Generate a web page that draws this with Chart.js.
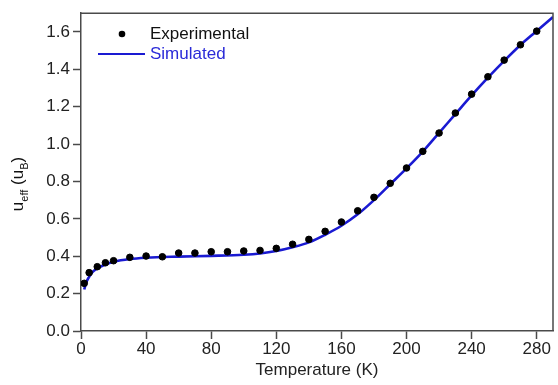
<!DOCTYPE html>
<html>
<head>
<meta charset="utf-8">
<script src="https://cdn.jsdelivr.net/npm/chart.js@4"></script>
<style>
  html, body { margin: 0; padding: 0; background: #fff; }
  #wrap { width: 558px; height: 385px; }
</style>
</head>
<body>
<div id="wrap"><canvas id="chart" width="558" height="385"></canvas></div>
<script>
// experimental points (temperature K, u_eff)
const expT = [2, 5, 10, 15, 20, 30, 40, 50, 60, 70, 80, 90, 100, 110, 120, 130, 140, 150, 160, 170,
  180, 190, 200, 210, 220, 230, 240, 250, 260, 270, 280];
const expU = [0.255, 0.312, 0.344, 0.365, 0.376, 0.394, 0.401, 0.397, 0.417, 0.417, 0.424, 0.424, 0.428, 0.431, 0.442, 0.464, 0.490, 0.533, 0.583, 0.643,
  0.715, 0.790, 0.872, 0.961, 1.059, 1.166, 1.267, 1.360, 1.449, 1.531, 1.604];

// simulated curve
const simT = [2, 3, 5, 7, 10, 15, 20, 30, 40, 60, 80, 100, 110, 120, 130, 140, 150, 160, 170, 180,
  190, 200, 210, 220, 230, 240, 250, 260, 270, 280, 290];
const simU = [0.222, 0.255, 0.29, 0.315, 0.335, 0.356, 0.37, 0.385, 0.392, 0.398, 0.402, 0.408, 0.415, 0.428, 0.448, 0.474, 0.515, 0.563, 0.624, 0.70,
  0.785, 0.87, 0.96, 1.06, 1.16, 1.26, 1.355, 1.445, 1.53, 1.605, 1.68];

const xTicks = [0, 40, 80, 120, 160, 200, 240, 280];
const yTicks = [0.0, 0.2, 0.4, 0.6, 0.8, 1.0, 1.2, 1.4, 1.6];

const FONT = 'Liberation Sans, Arial, sans-serif';
const axisColor = '#4a4a4a';
const lineColor = '#1a1ad2';

const expData = expT.map((t, i) => ({ x: t, y: expU[i] }));
const simData = simT.map((t, i) => ({ x: t, y: simU[i] }));

// frame, legend and y title with subscripts
const extras = {
  id: 'extras',
  afterDraw(chart) {
    const ctx = chart.ctx;
    const a = chart.chartArea;
    ctx.save();
    ctx.strokeStyle = axisColor;
    ctx.lineWidth = 1.5;
    ctx.beginPath();
    ctx.moveTo(a.left, a.top);
    ctx.lineTo(a.right, a.top);
    ctx.lineTo(a.right, a.bottom);
    ctx.stroke();

    // legend
    ctx.fillStyle = '#000';
    ctx.beginPath();
    ctx.arc(122, 34, 3.3, 0, Math.PI * 2);
    ctx.fill();
    ctx.font = '17px ' + FONT;
    ctx.textBaseline = 'middle';
    ctx.textAlign = 'left';
    ctx.fillStyle = '#111';
    ctx.fillText('Experimental', 150, 34);
    ctx.strokeStyle = lineColor;
    ctx.lineWidth = 2;
    ctx.beginPath();
    ctx.moveTo(98, 54);
    ctx.lineTo(145, 54);
    ctx.stroke();
    ctx.fillStyle = '#2a2ad8';
    ctx.fillText('Simulated', 150, 54);

    // y title: u_eff (u_B)
    ctx.translate(23, 184);
    ctx.rotate(-Math.PI / 2);
    ctx.fillStyle = '#111';
    ctx.textBaseline = 'alphabetic';
    const parts = [['u', 17, 0], ['eff', 11, 5], [' (u', 17, 0], ['B', 11, 5], [')', 17, 0]];
    let w = 0;
    parts.forEach(p => { ctx.font = p[1] + 'px ' + FONT; w += ctx.measureText(p[0]).width; });
    let x = -w / 2;
    parts.forEach(p => {
      ctx.font = p[1] + 'px ' + FONT;
      ctx.fillText(p[0], x, p[2]);
      x += ctx.measureText(p[0]).width;
    });
    ctx.restore();
  }
};

new Chart(document.getElementById('chart'), {
  type: 'scatter',
  data: {
    datasets: [
      {
        label: 'Simulated',
        data: simData,
        showLine: true,
        borderColor: lineColor,
        borderWidth: 2.6,
        pointRadius: 0,
        cubicInterpolationMode: 'monotone',
        order: 2
      },
      {
        label: 'Experimental',
        data: expData,
        showLine: false,
        backgroundColor: '#000',
        borderColor: '#000',
        pointRadius: 3.3,
        order: 1
      }
    ]
  },
  options: {
    responsive: false,
    animation: false,
    layout: { padding: { top: 13, right: 1, left: 0, bottom: 0 } },
    plugins: { legend: { display: false }, tooltip: { enabled: false } },
    scales: {
      x: {
        type: 'linear',
        min: 0,
        max: 290,
        afterFit(s) { s.height = 54; },
        afterBuildTicks(s) { s.ticks = xTicks.map(v => ({ value: v })); },
        ticks: { font: { family: FONT, size: 17 }, color: '#222', padding: 0, maxRotation: 0 },
        grid: { drawOnChartArea: false, tickLength: 8, tickColor: axisColor, tickWidth: 1.5 },
        border: { color: axisColor, width: 1.5 },
        title: { display: true, text: 'Temperature (K)', font: { family: FONT, size: 17 }, color: '#222', padding: { top: 6 } }
      },
      y: {
        type: 'linear',
        min: 0,
        max: 1.70,
        afterFit(s) { s.width = 81; },
        afterBuildTicks(s) { s.ticks = yTicks.map(v => ({ value: v })); },
        ticks: { font: { family: FONT, size: 17 }, color: '#222', padding: 3, callback: v => v.toFixed(1) },
        grid: { drawOnChartArea: false, tickLength: 8, tickColor: axisColor, tickWidth: 1.5 },
        border: { color: axisColor, width: 1.5 }
      }
    }
  },
  plugins: [extras]
});
</script>
</body>
</html>
